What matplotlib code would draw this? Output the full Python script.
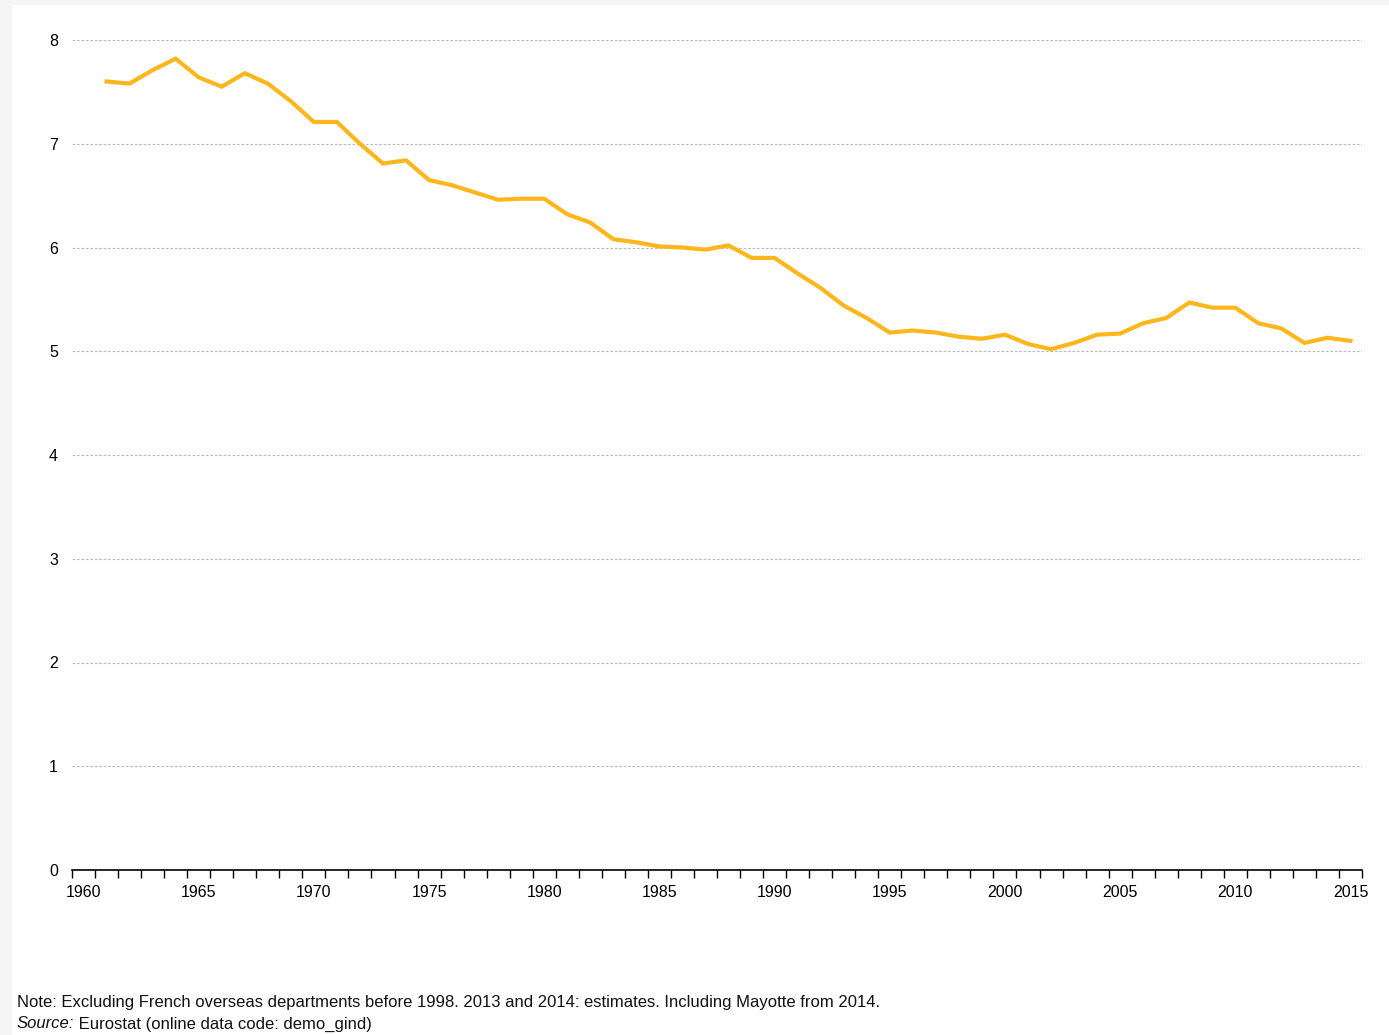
import numpy as np
import matplotlib
matplotlib.use("Agg")
import matplotlib.pyplot as plt
from matplotlib.patches import Rectangle

plt.rcParams['font.family'] = ['Liberation Sans', 'DejaVu Sans']

# years shown on the category axis (1960 has no value)
years = list(range(1960, 2016))
data_years = list(range(1961, 2016))
rate = [7.60, 7.58, 7.71, 7.82, 7.64, 7.55, 7.68, 7.58, 7.41, 7.21,
        7.21, 7.00, 6.81, 6.84, 6.65, 6.60, 6.53, 6.46, 6.47, 6.47,
        6.32, 6.24, 6.08, 6.05, 6.01, 6.00, 5.98, 6.02, 5.90, 5.90,
        5.75, 5.61, 5.44, 5.32, 5.18, 5.20, 5.18, 5.14, 5.12, 5.16,
        5.07, 5.02, 5.08, 5.16, 5.17, 5.27, 5.32, 5.47, 5.42, 5.42,
        5.27, 5.22, 5.08, 5.13, 5.10]
y_ticks = [0, 1, 2, 3, 4, 5, 6, 7, 8]
label_years = [1960, 1965, 1970, 1975, 1980, 1985, 1990, 1995, 2000, 2005, 2010, 2015]

fig = plt.figure(figsize=(13.89, 10.35), dpi=100, facecolor='#f5f5f5')
fig.patches.append(Rectangle((12 / 1389, 0), 1 - 12 / 1389, 1 - 5 / 1035,
                             transform=fig.transFigure, facecolor='white',
                             edgecolor='none', zorder=-5))

ax = fig.add_axes([72 / 1389, 1 - 870 / 1035, 1290 / 1389, 830 / 1035])
ax.set_facecolor('none')
ax.set_zorder(2)

pos = {y: i for i, y in enumerate(years)}
x = [pos[y] for y in data_years]
ax.plot(x, rate, color='#FDB71D', lw=3.0, solid_joinstyle='miter', zorder=3)

ax.set_xlim(-0.5, len(years) - 0.5)
ax.set_ylim(0, 8)

# tick marks on category boundaries, labels at category centres
ax.set_xticks(np.arange(-0.5, len(years), 1.0))
ax.set_xticklabels([])
ax.tick_params(axis='x', which='major', length=6, width=1, color='black', direction='out')
ax.set_xticks([pos[y] for y in label_years], minor=True)
ax.set_xticklabels([str(y) for y in label_years], minor=True)
ax.tick_params(axis='x', which='minor', length=0, pad=10.5, labelsize=11.5)

ax.set_yticks(y_ticks)
ax.set_yticklabels([str(v) for v in y_ticks])
ax.tick_params(axis='y', length=0, pad=10, labelsize=11.5)
for v in y_ticks[1:]:
    ax.axhline(v, color='#bdbdbd', lw=0.8, ls=(0, (2.5, 1.5)), zorder=1)

for s in ['top', 'right', 'left']:
    ax.spines[s].set_visible(False)
ax.spines['bottom'].set_color('black')
ax.spines['bottom'].set_linewidth(1.2)

fig.text(17 / 1389, 1 - 1002 / 1035,
         'Note: Excluding French overseas departments before 1998. 2013 and 2014: estimates. Including Mayotte from 2014.',
         fontsize=12, va='center', ha='left', color='#111111')
src = fig.text(17 / 1389, 1 - 1024 / 1035, 'Source:', fontsize=12, style='italic',
               va='center', ha='left', color='#111111')
ax.annotate(' Eurostat (online data code: demo_gind)', xy=(1, 0.5), xycoords=src,
            va='center', ha='left', fontsize=12, color='#111111',
            annotation_clip=False)

fig.savefig('out.png', dpi=100, facecolor=fig.get_facecolor())
